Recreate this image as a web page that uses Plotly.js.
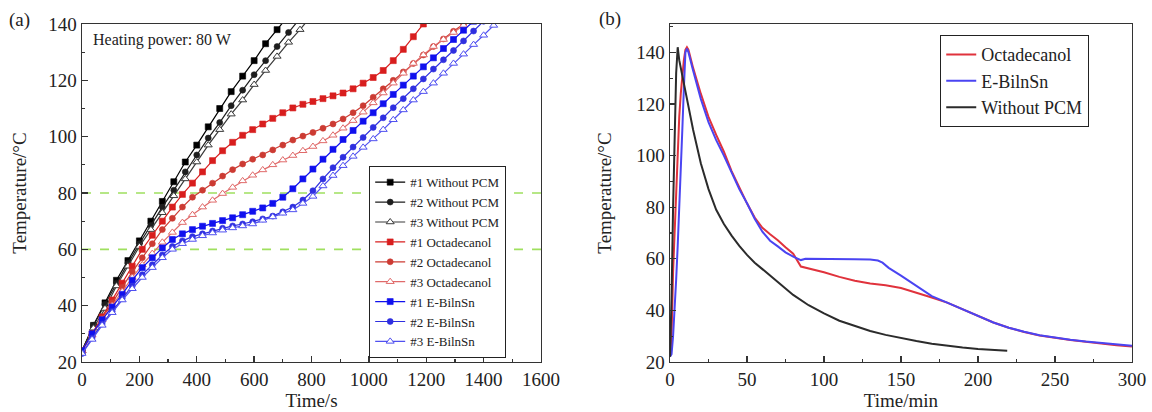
<!DOCTYPE html>
<html><head><meta charset="utf-8">
<script src="https://cdn.plot.ly/plotly-3.0.1.min.js"></script>
<style>html,body{margin:0;padding:0;background:#fff}#chart{width:1152px;height:412px}</style>
</head><body><div id="chart"></div>
<script>
// ---------- Panel (a): heating curves ----------
const tBlack = [0,40,80,120,160,200,240,280,320,360,400,440,480,520,560,600,640,680,720,760,800];
const black1 = [24,33,41,49,56,63,70,77,84,91,97,103.5,110,116,121.5,127,133,138,143];
const black2 = [24,33,40.5,48,55,62,68.5,75,81,87.5,93.5,99.5,105,111,116.5,122,127,132,137,142];
const black3 = [24,32,39,47,54,61,67,73,79,85,91,97,102.5,108,113,118.5,123.5,128.5,133.5,138,143];

const tPCM = [0,35,70,105,140,175,210,245,280,315,350,385,420,455,490,525,560,595,630,665,700,735,770,805,840,875,910,945,980,1015,1050,1085,1120,1155,1190,1225,1260,1295,1330,1365,1400,1435,1470];
const red1 = [24,30,36,42,48,54,60,65,70,75,79.5,83.5,87.5,91.5,95,98,100.5,102.5,104.5,106.5,108.5,110.2,111.5,112.5,113.5,114.5,115.5,117,119,121,123.5,127,131,135.5,140,144.5];
const red2 = [24,30,35.5,41,46.5,52,57,62,67,71,75,78.5,81,83.5,86,88.3,90.3,92,93.5,95.3,97,98.8,100.2,101.5,103,104.5,106.3,108.5,111,114,117,120,123,126,129,132,134.7,137.4,140,142.6];
const red3 = [24,29.5,35,40,45,50,54.5,58.5,62.5,66,69.5,72.3,75,77.4,79.8,82,84.3,86.3,88.2,90,91.7,93.3,95,96.5,98.5,100.5,103,105.7,108.7,112,115.5,119,122.5,126,129,132,134.5,137,139.5,142];
const blue1 = [24,30,35,39.5,44,49,53.5,57,60.5,63.5,65.5,67,68.2,69.2,70.2,71.2,72.3,73.5,74.7,76.3,78.5,81.5,85,88.5,92,95.5,99,102.2,105.5,108.5,111.7,115,118.3,121.5,124.8,128,131.3,134.5,137.8,141];
const blue2 = [23,28.5,33.5,38,42.5,47,51,54.5,58,61,63,64.5,65.5,66.5,67.5,68.3,69,69.8,70.8,71.8,73.3,75,77.5,80.8,85,89,92.7,96.3,99.7,103.3,106.7,110.3,113.5,117,120.5,124,127.3,130.6,134,137.5,141];
const blue3 = [23,28,33,37.5,42,46,50,53.5,57,60,62,63.5,64.8,65.8,66.8,67.6,68.3,69,70.3,71.5,72.8,74,76.3,78.8,82.5,86.2,89.7,93,96.2,99.2,102.5,106,109.5,113,116,119,122.5,126,129.3,132.7,136,139.5,143];
const legendA = ['#1 Without PCM','#2 Without PCM','#3 Without PCM','#1 Octadecanol','#2 Octadecanol','#3 Octadecanol','#1 E-BilnSn','#2 E-BilnSn','#3 E-BilnSn'];
const refLevels = [60, 80];
const xSpanA = [0, 1600];

// ---------- Panel (b): heating / cooling ----------
const tNoPCM = [0,1,2,3,4,5,6,8,10,15,20,25,30,35,40,45,50,55,60,70,80,90,100,110,120,130,140,150,160,170,180,190,200,210,219];
const noPCM = [22,45,80,110,132,142,137,131,125,110,97,87,79,73.5,69,65,61.5,58.5,56,51,46,42,38.8,36,34,32,30.5,29.2,28.1,27.1,26.3,25.6,25,24.6,24.4];
const tOcta = [0,1,2,3,4,5,6,7,8,9,10,11,12,15,20,25,30,35,40,45,50,55,60,65,70,75,80,85,90,100,110,120,130,140,150,160,170,180,190,200,210,220,230,240,250,260,270,280,290,300];
const octa = [22,30,55,70,85,102,115,124,131,137,141,142,141,134,124,115,108,101.5,94,87.5,81.5,76,72,69.5,67.2,64.5,62,57,56.3,54.8,53,51.5,50.4,49.7,48.7,47,45,43,40.5,37.8,35.3,33.3,31.6,30.3,29.3,28.5,27.8,27.1,26.5,26];
const tEB = [0,1,2,3,4,5,6,7,8,9,10,11,12,15,20,25,30,35,40,45,50,55,60,65,70,75,80,85,88,100,110,120,130,135,138,142,150,160,170,180,190,200,210,220,230,240,250,260,270,280,290,300];
const eb = [22,23,30,40,52,65,78,92,110,126,140,141.5,140,133,122,113,106,100,93.5,87,81.5,75.5,70.5,67,64.8,62.5,60.8,59.5,60,60,59.9,59.8,59.7,59.3,58.5,56.5,53.5,49.5,45.5,43,40.5,37.8,35.3,33.3,31.7,30.4,29.4,28.6,27.9,27.3,26.7,26.3];
const legendB = ['Octadecanol','E-BilnSn','Without PCM'];

const traces = [];
refLevels.forEach(v => traces.push({x: xSpanA, y: [v, v], xaxis:'x', yaxis:'y', mode:'lines',
  line:{color:'#9fe05f', width:1.6, dash:'dash'}, showlegend:false, hoverinfo:'skip'}));

function sA(t, y, name, color, symbol, size, open) {
  return {x: t.slice(0, y.length), y: y, name: name, xaxis:'x', yaxis:'y', legend:'legend',
    mode:'lines+markers', line:{color: color, width:1.2},
    marker:{symbol: symbol, size: size, color: open ? '#ffffff' : color, line:{color: color, width: open ? 1 : 0.6}}};
}
traces.push(sA(tBlack, black1, legendA[0], '#000000', 'square', 6, false));
traces.push(sA(tBlack, black2, legendA[1], '#1e1e1e', 'circle', 6, false));
traces.push(sA(tBlack, black3, legendA[2], '#3a3a3a', 'triangle-up', 7, true));
traces.push(sA(tPCM, red1, legendA[3], '#d81e1e', 'square', 6, false));
traces.push(sA(tPCM, red2, legendA[4], '#cc3b33', 'circle', 6, false));
traces.push(sA(tPCM, red3, legendA[5], '#e06a6a', 'triangle-up', 7, true));
traces.push(sA(tPCM, blue1, legendA[6], '#1010ee', 'square', 6, false));
traces.push(sA(tPCM, blue2, legendA[7], '#2f2fe0', 'circle', 6, false));
traces.push(sA(tPCM, blue3, legendA[8], '#5050f0', 'triangle-up', 7, true));

function sB(t, y, name, color) {
  return {x: t, y: y, name: name, xaxis:'x2', yaxis:'y2', legend:'legend2', mode:'lines',
    line:{color: color, width:2}};
}
traces.push(sB(tOcta, octa, legendB[0], '#e0323c'));
traces.push(sB(tEB, eb, legendB[1], '#4a44f2'));
traces.push(sB(tNoPCM, noPCM, legendB[2], '#2b2b2b'));

const axBase = {showline:true, mirror:true, linecolor:'#333', linewidth:1.5, showgrid:false, zeroline:false,
  ticks:'inside', ticklen:6, tickwidth:1.3, tickcolor:'#333', automargin:false,
  tickfont:{size:19, color:'#222'}};
function ax(extra) { return Object.assign({}, axBase, extra); }

const layout = {
  width:1152, height:412, margin:{l:0, r:0, t:0, b:0},
  paper_bgcolor:'#fff', plot_bgcolor:'#fff',
  font:{family:'"Liberation Serif", "Times New Roman", serif', size:19, color:'#222'},
  xaxis: ax({domain:[0.0712,0.4696], range:[0,1600], dtick:200, tick0:0, anchor:'y',
    minor:{ticks:'inside', ticklen:3, dtick:100, tickcolor:'#333'},
    title:{text:'Time/s', font:{size:19}, standoff:2}}),
  yaxis: ax({domain:[0.1214,0.9417], range:[20,140], dtick:20, tick0:0, anchor:'x',
    minor:{ticks:'inside', ticklen:3, dtick:10, tickcolor:'#333'},
    title:{text:'Temperature/°C', font:{size:19}, standoff:16}}),
  xaxis2: ax({domain:[0.5816,0.9826], range:[0,300], dtick:50, tick0:0, anchor:'y2',
    minor:{ticks:'inside', ticklen:3, dtick:25, tickcolor:'#333'},
    title:{text:'Time/min', font:{size:19}, standoff:2}}),
  yaxis2: ax({domain:[0.1214,0.9417], range:[20,151], dtick:20, tick0:0, anchor:'x2',
    minor:{ticks:'inside', ticklen:3, dtick:10, tickcolor:'#333'},
    title:{text:'Temperature/°C', font:{size:19}, standoff:19}}),
  showlegend:true,
  legend:{x:0.3203, y:0.131, xanchor:'left', yanchor:'bottom', bgcolor:'#fff', bordercolor:'#222',
    borderwidth:1.2, font:{size:13, color:'#222'}, tracegroupgap:0, itemwidth:30, traceorder:'normal'},
  legend2:{x:0.816, y:0.915, xanchor:'left', yanchor:'top', bgcolor:'#fff', bordercolor:'#222',
    borderwidth:1.2, font:{size:18, color:'#222'}, tracegroupgap:0, itemwidth:30, traceorder:'normal'},
  annotations:[
    {text:'(a)', xref:'paper', yref:'paper', x:0.006, y:0.951, xanchor:'left', yanchor:'middle', showarrow:false, font:{size:19}},
    {text:'(b)', xref:'paper', yref:'paper', x:0.518, y:0.954, xanchor:'left', yanchor:'middle', showarrow:false, font:{size:19}},
    {text:'Heating power: 80 W', xref:'paper', yref:'paper', x:0.0790, y:0.903, xanchor:'left', yanchor:'middle', showarrow:false, font:{size:16}}
  ]
};
Plotly.newPlot('chart', traces, layout, {displayModeBar:false, staticPlot:true});
</script></body></html>
